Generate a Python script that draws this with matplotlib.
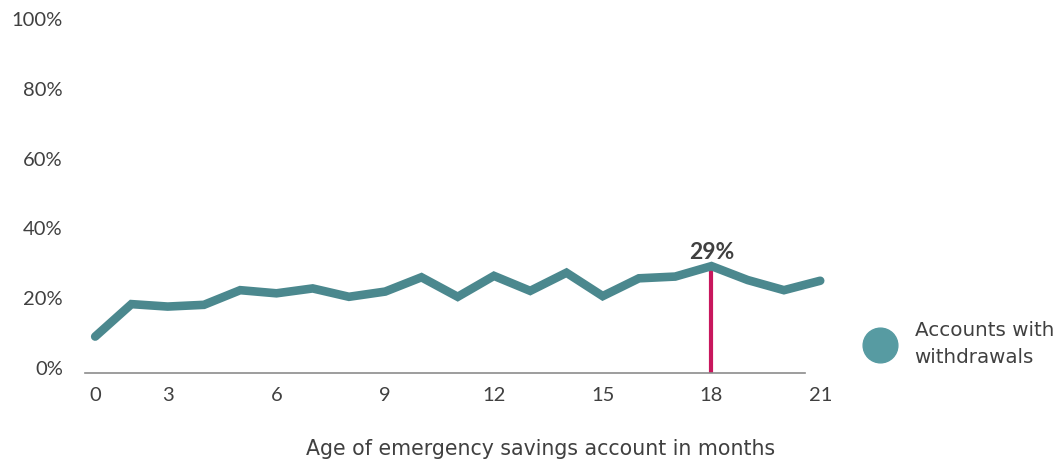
import matplotlib.pyplot as plt
from matplotlib.lines import Line2D

# months on the x axis (category order), share of accounts with withdrawals (%)
months = [0, 2, 3, 4, 5, 6, 7, 8, 9, 10, 11, 12, 13, 14, 15, 16, 17, 18, 19, 20, 21]
withdrawals = [9.0, 18.3, 17.6, 18.1, 22.3, 21.4, 22.8, 20.4, 21.9, 26.0, 20.4,
               26.4, 22.1, 27.3, 20.6, 25.7, 26.2, 29.2, 25.2, 22.3, 25.0]
tick_months = [0, 3, 6, 9, 12, 15, 18, 21]
peak_month = 18
series_name = "Accounts with\nwithdrawals"
xlabel = "Age of emergency savings account in months"

line_col = "#4b888e"
dot_col = "#579ba2"
red = "#c8175d"
txt = "#404040"

plt.rcParams['font.family'] = ['Lato', 'DejaVu Sans']

fig = plt.figure(figsize=(10.63, 4.67), dpi=100)
ax = fig.add_axes([0.080, 0.202, 0.6916, 0.757])

x = list(range(len(months)))
ax.plot(x, withdrawals, color=line_col, lw=6.2, solid_capstyle='round',
        solid_joinstyle='miter', clip_on=False, zorder=3)

pi = months.index(peak_month)
ax.vlines(pi, -1.35, withdrawals[pi], color=red, lw=3, zorder=2)
ax.text(pi, withdrawals[pi] + 2.0, f"{int(withdrawals[pi])}%", ha='center', va='baseline',
        fontsize=16.5, fontweight='bold', color=txt)

ax.set_yticks([0, 20, 40, 60, 80, 100])
ax.set_yticklabels([f"{v}%" for v in [0, 20, 40, 60, 80, 100]])
ax.set_xticks([months.index(m) for m in tick_months])
ax.set_xticklabels([str(m) for m in tick_months])
ax.set_xlim(-0.28, 20.0)
ax.set_ylim(-1.35, 100)
ax.tick_params(axis='both', length=0, labelsize=14.5, labelcolor=txt)
ax.tick_params(axis='y', pad=16)
ax.tick_params(axis='x', pad=10)
for s in ['top', 'right', 'left']:
    ax.spines[s].set_visible(False)
ax.spines['bottom'].set_color('#8c8c8c')
ax.spines['bottom'].set_linewidth(1.2)
ax.spines['bottom'].set_bounds(-0.28, 19.58)

fig.text(541 / 1063, 1 - 449 / 467, xlabel, ha='center', va='center', fontsize=14.8,
         color=txt, family='DejaVu Sans')

handle = Line2D([], [], marker='o', markersize=25, color=dot_col, linestyle='')
leg = fig.legend([handle], [series_name], loc='center left', bbox_to_anchor=(850 / 1063, 1 - 344 / 467),
                 frameon=False, prop={'family': 'DejaVu Sans', 'size': 14.3}, labelcolor=txt,
                 handletextpad=0.75, borderpad=0)
for t in leg.get_texts():
    t.set_linespacing(1.5)

fig.savefig("out.png", dpi=100)
